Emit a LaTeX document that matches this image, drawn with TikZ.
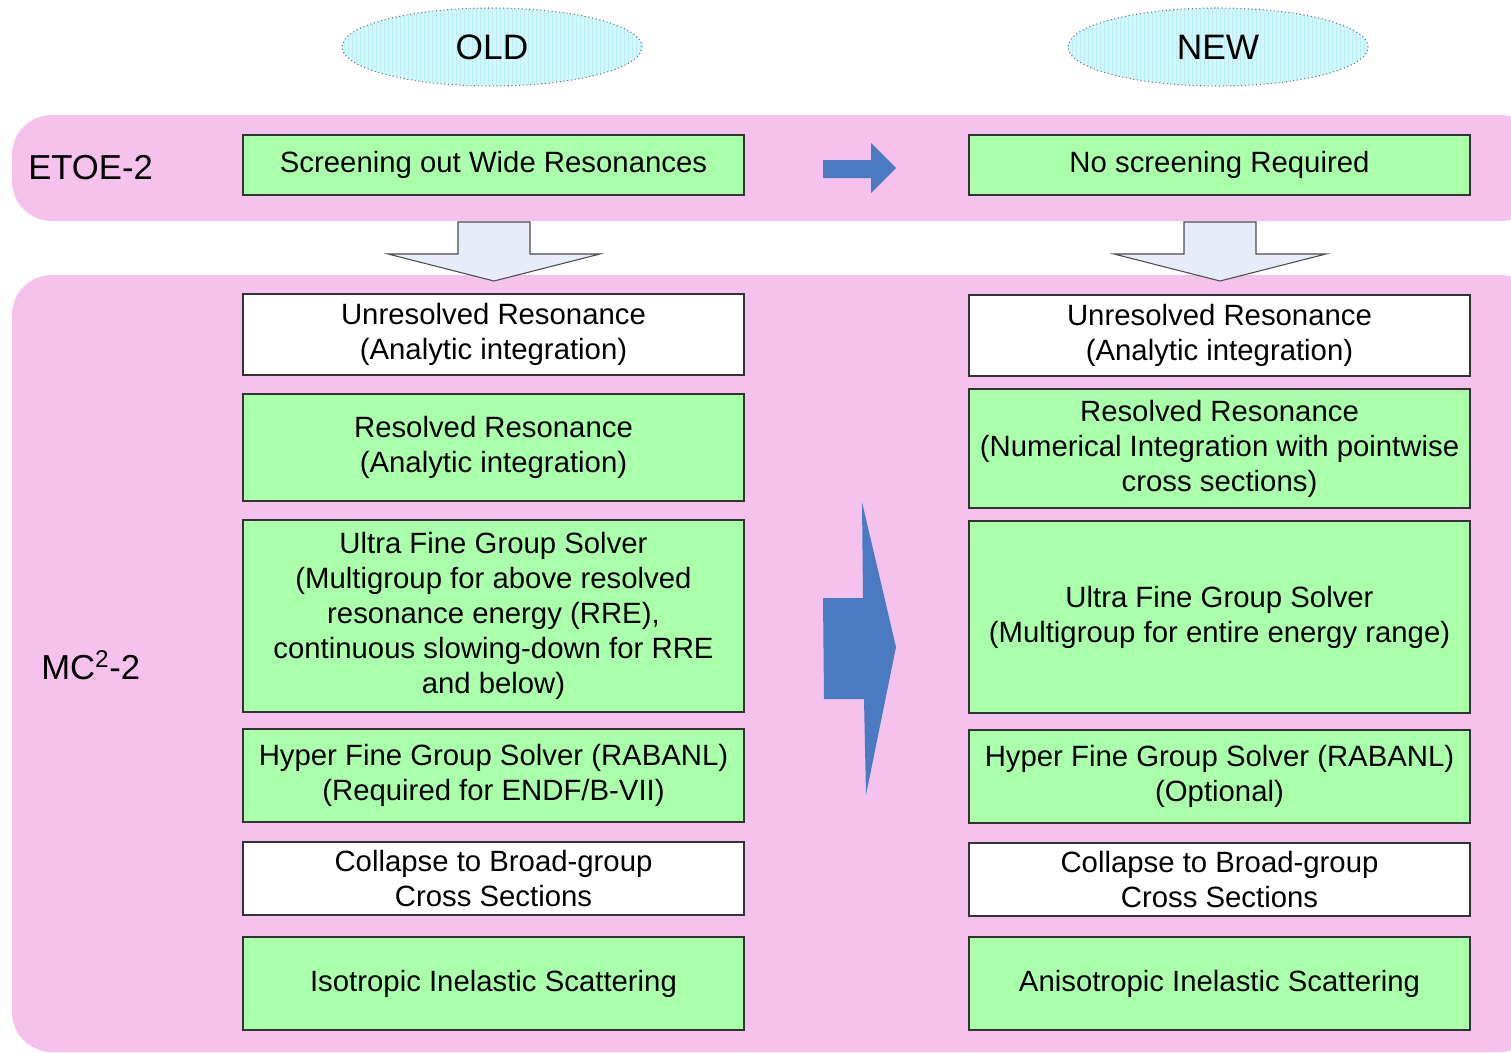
\documentclass[tikz,border=0pt]{standalone}
\usepackage{fontspec}
\setmainfont{Liberation Sans}
\usetikzlibrary{shapes.geometric}
\definecolor{bandpink}{RGB}{245,194,238}
\definecolor{boxgreen}{RGB}{170,255,170}
\definecolor{arrowblue}{RGB}{74,123,192}
\definecolor{downfill}{RGB}{230,236,248}
\definecolor{ellfill}{RGB}{215,246,250}
\definecolor{ellgrid}{RGB}{185,240,248}
\tikzset{
  band/.style={fill=bandpink, draw=none, rounded corners=30pt},
  procbox/.style={draw=black!80, line width=0.9pt, minimum width=375.75pt, inner sep=0pt, align=center,
     font=\fontsize{22}{26.3}\selectfont},
  greenbox/.style={procbox, fill=boxgreen},
  whitebox/.style={procbox, fill=white},
  bandlabel/.style={anchor=west, inner sep=0pt, font=\fontsize{26}{30}\selectfont},
  headell/.style={ellipse, draw=black!55, dotted, line width=0.8pt, minimum width=225pt, minimum height=58.5pt, inner sep=0pt,
     font=\fontsize{26.5}{30}\selectfont},
  bluearrow/.style={fill=arrowblue, draw=none},
  downarrow/.style={fill=downfill, draw=black!70, line width=0.8pt, line join=miter},
}
\begin{document}
\begin{tikzpicture}[x=0.75pt, y=-0.75pt]
\useasboundingbox (0,0) rectangle (1511,1053);
% bands
\fill[band] (12,115) rectangle (1540,221);
\fill[band] (12,275) rectangle (1540,1052);
% ellipses with grid texture
\foreach \cx/\nm/\lab in {492/old/OLD, 1218/new/NEW} {
  \begin{scope}
    \clip (\cx,47) ellipse [x radius=150, y radius=39];
    \fill[ellfill] (\cx-151,7) rectangle (\cx+151,87);
    \draw[ellgrid, line width=0.3pt] (\cx-152,6) grid[step=4] (\cx+152,88);
  \end{scope}
  \node[headell] (\nm) at (\cx,47) {\lab};
}
% labels
\node[bandlabel] (etoe) at (28,168) {ETOE-2};
\node[bandlabel] (mcc) at (41,665) {MC\textsuperscript{2}-2};
% left column
\node[greenbox, minimum height=45pt] (l1) at (493.5,165) {Screening out Wide Resonances};
\node[whitebox, minimum height=60.75pt] (l2) at (493.5,334.5) {Unresolved Resonance\\(Analytic integration)};
\node[greenbox, minimum height=80.25pt] (l3) at (493.5,447.5) {Resolved Resonance\\(Analytic integration)};
\node[greenbox, minimum height=144pt] (l4) at (493.5,616) {Ultra Fine Group Solver\\(Multigroup for above resolved\\resonance energy (RRE),\\continuous slowing-down for RRE\\and below)};
\node[greenbox, minimum height=69.75pt] (l5) at (493.5,775.5) {Hyper Fine Group Solver (RABANL)\\(Required for ENDF/B-VII)};
\node[whitebox, minimum height=54.75pt] (l6) at (493.5,878.5) {Collapse to Broad-group\\Cross Sections};
\node[greenbox, minimum height=69.75pt] (l7) at (493.5,983.5) {Isotropic Inelastic Scattering};
% right column
\node[greenbox, minimum height=45pt] (r1) at (1219.5,165) {No screening Required};
\node[whitebox, minimum height=60.75pt] (r2) at (1219.5,335.5) {Unresolved Resonance\\(Analytic integration)};
\node[greenbox, minimum height=89.25pt] (r3) at (1219.5,448.5) {Resolved Resonance\\(Numerical Integration with pointwise\\cross sections)};
\node[greenbox, minimum height=144pt] (r4) at (1219.5,617) {Ultra Fine Group Solver\\(Multigroup for entire energy range)};
\node[greenbox, minimum height=69.75pt] (r5) at (1219.5,776.5) {Hyper Fine Group Solver (RABANL)\\(Optional)};
\node[whitebox, minimum height=54.75pt] (r6) at (1219.5,879.5) {Collapse to Broad-group\\Cross Sections};
\node[greenbox, minimum height=69.75pt] (r7) at (1219.5,983.5) {Anisotropic Inelastic Scattering};
% down block arrows
\draw[downarrow] (458,222) -- (530,222) -- (530,254) -- (600,254) -- (494,281) -- (388,254) -- (458,254) -- cycle;
\draw[downarrow] (1184,222) -- (1256,222) -- (1256,254) -- (1326,254) -- (1220,281) -- (1114,254) -- (1184,254) -- cycle;
% blue right arrows
\fill[bluearrow] (823,160) -- (871,160) -- (871,143) -- (896,168) -- (871,193) -- (871,178) -- (823,178) -- cycle;
\fill[bluearrow] (823,598) -- (863,598) -- (862,502) -- (896,647) -- (866,795) -- (864,699) -- (824,699) -- cycle;
\end{tikzpicture}
\end{document}
